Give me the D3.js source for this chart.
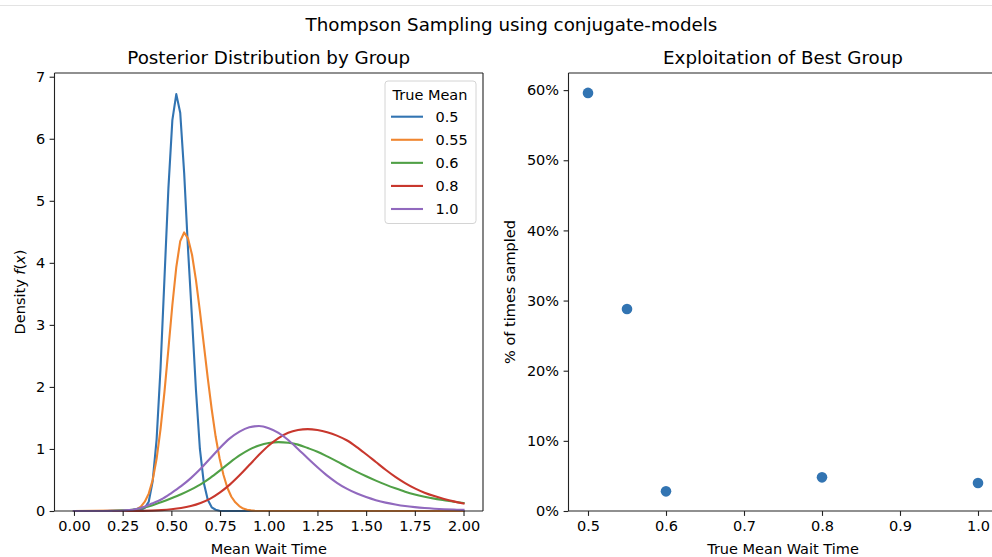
<!DOCTYPE html>
<html><head><meta charset="utf-8">
<script src="https://cdn.jsdelivr.net/npm/d3@7/dist/d3.min.js"></script>
<style>
body{margin:0;background:#fff;}
text{font-family:"DejaVu Sans",sans-serif;fill:#000;}
</style>
</head><body>
<svg id="c" width="992" height="557"></svg>
<script>
// ---------- data ----------
const groups = ["0.5", "0.55", "0.6", "0.8", "1.0"];
const colors = ["#3274b2", "#f08630", "#50a046", "#c8372d", "#9169be"];

// fine x grid used for the two narrow posteriors
const narrowX = [0, 0.3030, 0.3232, 0.3434, 0.3636, 0.3838, 0.4040, 0.4242, 0.4444, 0.4646, 0.4848,
  0.5051, 0.5253, 0.5455, 0.5657, 0.5859, 0.6061, 0.6263, 0.6465, 0.6667, 0.6869, 0.7071, 0.7273,
  0.7475, 0.7677, 0.7879, 0.8081, 0.8283, 0.8485, 0.8687, 0.8889, 0.9091, 0.9293, 2.0];
const density050 = [0, 0.003, 0.006, 0.015, 0.05, 0.15, 0.48, 1.15, 2.3, 3.75, 5.2,
  6.3, 6.72, 6.42, 5.45, 4.2, 3.1, 1.95, 1.0, 0.45, 0.18, 0.06, 0.02,
  0.005, 0, 0, 0, 0, 0, 0, 0, 0, 0, 0];
const density055 = [0, 0.01, 0.03, 0.07, 0.15, 0.28, 0.50, 0.84, 1.32, 1.92, 2.61,
  3.32, 3.93, 4.35, 4.49, 4.39, 4.13, 3.72, 3.22, 2.68, 2.14, 1.64, 1.20,
  0.85, 0.58, 0.37, 0.23, 0.14, 0.08, 0.04, 0.02, 0.01, 0.005, 0];

// coarser x grid for the three wide posteriors
const wideX = [0, 0.05, 0.1, 0.15, 0.2, 0.25, 0.3, 0.35, 0.4, 0.45, 0.5, 0.55, 0.6, 0.65, 0.7, 0.75,
  0.8, 0.85, 0.9, 0.95, 1.0, 1.05, 1.1, 1.15, 1.2, 1.25, 1.3, 1.35, 1.4, 1.45, 1.5, 1.55, 1.6,
  1.65, 1.7, 1.75, 1.8, 1.85, 1.9, 1.95, 2.0];
const density060 = [0, 0, 0, 0, 0.003, 0.01, 0.02, 0.05, 0.09, 0.145, 0.205, 0.27, 0.345, 0.43, 0.535, 0.655,
  0.78, 0.895, 0.99, 1.055, 1.095, 1.11, 1.10, 1.07, 1.015, 0.955, 0.88, 0.80, 0.715, 0.635, 0.56, 0.49, 0.425,
  0.365, 0.31, 0.265, 0.23, 0.20, 0.175, 0.15, 0.13];
const density080 = [0, 0, 0, 0, 0, 0, 0, 0.002, 0.006, 0.014, 0.027, 0.047, 0.08, 0.13, 0.20, 0.30,
  0.425, 0.575, 0.74, 0.905, 1.055, 1.175, 1.26, 1.305, 1.32, 1.305, 1.27, 1.215, 1.14, 1.035, 0.915, 0.79, 0.665,
  0.55, 0.45, 0.365, 0.295, 0.24, 0.195, 0.155, 0.12];
const density100 = [0, 0, 0, 0, 0.003, 0.008, 0.02, 0.055, 0.12, 0.19, 0.29, 0.40, 0.53, 0.68, 0.85, 1.02,
  1.17, 1.28, 1.35, 1.37, 1.335, 1.26, 1.145, 1.0, 0.85, 0.705, 0.57, 0.455, 0.36, 0.285, 0.225, 0.175, 0.135,
  0.105, 0.08, 0.062, 0.048, 0.037, 0.029, 0.023, 0.018];

const xTicksLeft = [0, 0.25, 0.5, 0.75, 1.0, 1.25, 1.5, 1.75, 2.0];
const yTicksLeft = [0, 1, 2, 3, 4, 5, 6, 7];

const trueMeans = [0.5, 0.55, 0.6, 0.8, 1.0];
const pctSampled = [59.6, 28.8, 2.8, 4.8, 4.0];
const xTicksRight = [0.5, 0.6, 0.7, 0.8, 0.9, 1.0];
const yTicksRight = [0, 10, 20, 30, 40, 50, 60];

// ---------- drawing ----------
const svg = d3.select("#c");
const FS = 14.5;
const TS = 18.3;

svg.append("line").attr("x1", 0).attr("x2", 992).attr("y1", 5.5).attr("y2", 5.5)
  .attr("stroke", "#e3e3e3").attr("stroke-width", 1);

svg.append("text").attr("x", 511.5).attr("y", 30.5).attr("text-anchor", "middle")
  .style("font-size", TS + "px").text("Thompson Sampling using conjugate-models");

// left panel
const L = {l: 54.5, r: 483, t: 73, b: 511};
const xL = d3.scaleLinear().domain([-0.1, 2.1]).range([L.l, L.r]);
const yL = d3.scaleLinear().domain([0, 7.06]).range([L.b, L.t]);

const series = [
  {x: narrowX, y: density050, curve: d3.curveLinear},
  {x: narrowX, y: density055, curve: d3.curveLinear},
  {x: wideX, y: density060, curve: d3.curveMonotoneX},
  {x: wideX, y: density080, curve: d3.curveMonotoneX},
  {x: wideX, y: density100, curve: d3.curveMonotoneX}
];
series.forEach((s, i) => {
  const pts = s.x.map((xv, j) => [xv, s.y[j]]);
  const line = d3.line().x(d => xL(d[0])).y(d => yL(d[1])).curve(s.curve);
  svg.append("path").attr("d", line(pts)).attr("fill", "none")
    .attr("stroke", colors[i]).attr("stroke-width", 2.1)
    .attr("stroke-linejoin", "round").attr("stroke-linecap", "square");
});

function frame(b, sides) {
  const g = svg.append("g").attr("stroke", "#222").attr("stroke-width", 1.1).attr("fill", "none");
  if (sides.includes("l")) g.append("line").attr("x1", b.l).attr("x2", b.l).attr("y1", b.t).attr("y2", b.b);
  if (sides.includes("r")) g.append("line").attr("x1", b.r).attr("x2", b.r).attr("y1", b.t).attr("y2", b.b);
  if (sides.includes("t")) g.append("line").attr("x1", b.l).attr("x2", b.r).attr("y1", b.t).attr("y2", b.t);
  if (sides.includes("b")) g.append("line").attr("x1", b.l).attr("x2", b.r).attr("y1", b.b).attr("y2", b.b);
}

function axes(b, xs, ys, xt, yt, xfmt, yfmt) {
  const gx = svg.append("g").attr("transform", `translate(0,${b.b})`)
    .call(d3.axisBottom(xs).tickValues(xt).tickFormat(xfmt).tickSize(4.9).tickPadding(4.5));
  const gy = svg.append("g").attr("transform", `translate(${b.l},0)`)
    .call(d3.axisLeft(ys).tickValues(yt).tickFormat(yfmt).tickSize(4.9).tickPadding(4.5));
  [gx, gy].forEach(g => {
    g.select(".domain").remove();
    g.selectAll(".tick line").attr("stroke", "#222").attr("stroke-width", 1.1);
    g.selectAll(".tick text").style("font-size", FS + "px").style("font-family", "DejaVu Sans").attr("fill", "#000");
  });
}

axes(L, xL, yL, xTicksLeft, yTicksLeft, d3.format(".2f"), d3.format("d"));
frame(L, "lrtb");

svg.append("text").attr("x", (L.l + L.r) / 2).attr("y", 64).attr("text-anchor", "middle")
  .style("font-size", TS + "px").text("Posterior Distribution by Group");
svg.append("text").attr("x", (L.l + L.r) / 2).attr("y", 554).attr("text-anchor", "middle")
  .style("font-size", FS + "px").text("Mean Wait Time");
const yl = svg.append("text").attr("transform", `translate(24.5,${(L.t + L.b) / 2}) rotate(-90)`)
  .attr("text-anchor", "middle").style("font-size", FS + "px");
yl.append("tspan").text("Density ");
yl.append("tspan").style("font-style", "italic").text("f");
yl.append("tspan").text("(");
yl.append("tspan").style("font-style", "italic").text("x");
yl.append("tspan").text(")");

// legend
const lg = svg.append("g");
lg.append("rect").attr("x", 385).attr("y", 81).attr("width", 91).attr("height", 142.5)
  .attr("rx", 3).attr("fill", "#fff").attr("fill-opacity", 0.8).attr("stroke", "#d4d4d4").attr("stroke-width", 1);
lg.append("text").attr("x", 430).attr("y", 99.5).attr("text-anchor", "middle")
  .style("font-size", FS + "px").text("True Mean");
const legY = d3.scalePoint().domain(groups).range([116.7, 209]);
groups.forEach((g, i) => {
  lg.append("line").attr("x1", 391).attr("x2", 423).attr("y1", legY(g)).attr("y2", legY(g))
    .attr("stroke", colors[i]).attr("stroke-width", 2.1);
  lg.append("text").attr("x", 435.5).attr("y", legY(g) + 5.2).style("font-size", FS + "px").text(g);
});

// right panel
const R = {l: 568.5, r: 997.5, t: 73, b: 511};
const xR = d3.scaleLinear().domain([0.475, 1.025]).range([R.l, R.r]);
const yR = d3.scaleLinear().domain([0, 62.44]).range([R.b, R.t]);

svg.append("g").selectAll("circle").data(trueMeans).join("circle")
  .attr("cx", d => xR(d)).attr("cy", (d, i) => yR(pctSampled[i])).attr("r", 5.3)
  .attr("fill", colors[0]);

axes(R, xR, yR, xTicksRight, yTicksRight, d3.format(".1f"), d => d + "%");
frame(R, "lrtb");

svg.append("text").attr("x", (R.l + R.r) / 2).attr("y", 64).attr("text-anchor", "middle")
  .style("font-size", TS + "px").text("Exploitation of Best Group");
svg.append("text").attr("x", (R.l + R.r) / 2).attr("y", 554).attr("text-anchor", "middle")
  .style("font-size", FS + "px").text("True Mean Wait Time");
svg.append("text").attr("transform", `translate(515,${(R.t + R.b) / 2}) rotate(-90)`)
  .attr("text-anchor", "middle").style("font-size", FS + "px").text("% of times sampled");
</script>
</body></html>
